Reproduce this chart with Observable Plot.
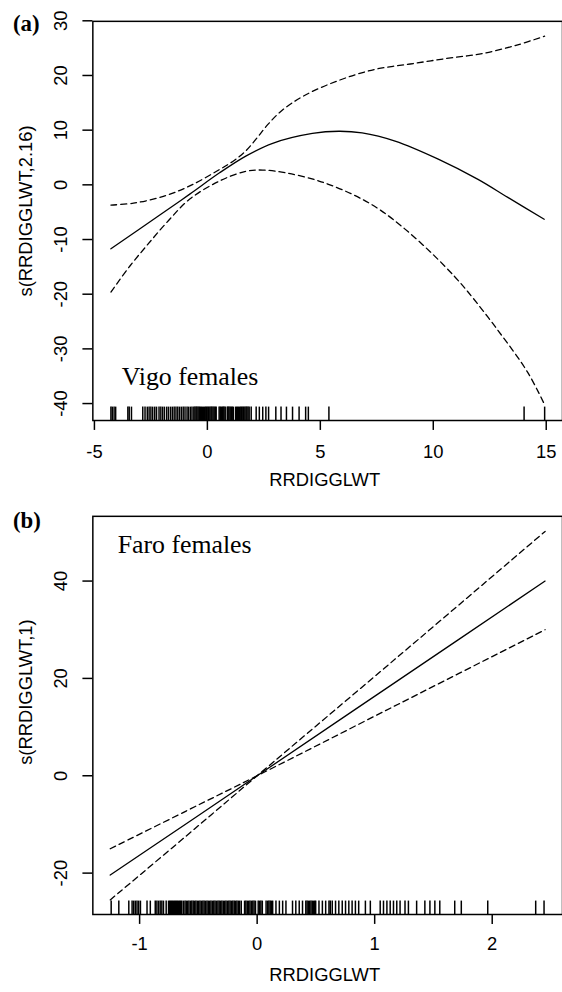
<!DOCTYPE html>
<html><head><meta charset="utf-8">
<script src="https://cdn.jsdelivr.net/npm/d3@7"></script>
<script src="https://cdn.jsdelivr.net/npm/@observablehq/plot@0.6"></script>
<style>
html,body{margin:0;padding:0;background:#fff;overflow:hidden;width:562px;height:992px}
#wrap{position:relative;width:562px;height:992px;overflow:hidden;background:#fff}
#wrap svg{display:block}
</style></head><body><div id="wrap"></div>
<script>
// ---------- Panel (a): Vigo females ----------
const aFitX = [-4.27,-2.17,-0.78,0.54,1.72,2.89,4.65,5.82,6.85,8.31,10.22,11.98,13.3,14.91];
const aFitY = [-11.7,-5.7,-1.7,2.2,5.3,7.6,9.4,9.8,9.5,8.0,4.7,1.0,-2.3,-6.3];
const aUpX  = [-4.27,-3.27,-1.95,-0.78,0.54,1.2,1.72,2.2,2.67,3.3,4.28,5.82,7.4,8.98,10.57,12.16,13.74,14.93];
const aUpY  = [-3.7,-3.35,-2.1,-0.2,2.8,4.5,6.3,8.6,11.0,13.6,16.3,19.1,21.1,22.1,23.1,24.0,25.6,27.2];
const aLoX  = [-4.27,-3.42,-2.68,-1.8,-0.78,0.54,1.72,2.45,3.47,4.94,6.4,7.58,8.75,9.93,10.95,11.54,12.86,14.18,14.95];
const aLoY  = [-19.6,-14.8,-11.1,-6.9,-2.6,0.7,2.5,2.7,2.2,0.7,-1.7,-4.4,-8.1,-12.5,-16.8,-19.6,-26.6,-34.3,-40.4];
const aRug = [-4.27,-4.21,-4.13,-4.06,-3.52,-3.46,-3.36,-2.86,-2.76,-2.66,-2.58,-2.5,-2.42,-2.33,-2.25,-2.14,-2.06,-1.98,-1.9,-1.8,-1.72,-1.63,-1.55,-1.47,-1.39,-1.31,-1.23,-1.15,-1.07,-0.99,-0.9,-0.83,-0.75,-0.68,-0.6,-0.55,-0.5,-0.46,-0.41,-0.36,-0.31,-0.27,-0.22,-0.17,-0.12,-0.07,-0.03,0.02,0.06,0.11,0.16,0.2,0.25,0.3,0.35,0.39,0.52,0.57,0.62,0.66,0.7,0.74,0.79,0.88,0.92,0.96,1.01,1.06,1.1,1.15,1.25,1.29,1.34,1.38,1.43,1.48,1.52,1.57,1.61,1.66,1.71,1.75,1.8,1.85,1.94,2.16,2.3,2.45,2.59,2.71,3.03,3.26,3.5,3.77,4.06,4.35,4.47,5.38,14.02,14.93];
const aXTicks = [-5,0,5,10,15];
const aYTicks = [-40,-30,-20,-10,0,10,20,30];
const aXDomain = [-5.07,15.72];
const aYDomain = [-43.1,29.9];
const aYLabel = "s(RRDIGGLWT,2.16)";
const aTag = "(a)";
const aNote = "Vigo females";

// ---------- Panel (b): Faro females ----------
const bX   = [-1.25,-0.6,0,1.2,2.45];
const bFit = [-20.4,-9.8,0,19.6,40.0];
const bUp  = [-25.5,-12.3,0,24.5,50.2];
const bLo  = [-15.0,-7.2,0,14.7,30.0];
const bRug = [-1.242,-1.177,-1.092,-1.064,-1.05,-1.036,-1.022,-1.008,-0.993,-0.937,-0.909,-0.867,-0.853,-0.839,-0.825,-0.811,-0.797,-0.774,
  -0.754,-0.745,-0.737,-0.728,-0.72,-0.711,-0.702,-0.694,-0.685,-0.677,-0.668,-0.659,-0.651,-0.642,-0.628,
  -0.614,-0.603,-0.591,-0.58,-0.567,-0.556,-0.544,-0.532,-0.521,-0.509,-0.497,-0.486,-0.474,-0.462,-0.451,-0.439,-0.427,-0.416,-0.404,-0.393,-0.381,-0.369,-0.358,-0.346,-0.334,-0.323,-0.311,-0.3,-0.288,-0.276,-0.265,-0.253,-0.241,-0.23,-0.218,-0.207,-0.195,-0.183,-0.172,-0.16,-0.149,-0.135,
  -0.107,-0.096,-0.084,-0.072,-0.061,-0.049,-0.037,-0.026,-0.014,0.009,0.021,0.032,0.044,0.076,0.09,0.1,0.111,0.122,0.132,0.16,0.189,0.217,0.245,0.301,0.329,0.358,0.386,
  0.414,0.425,0.436,0.447,0.458,0.469,0.48,0.49,0.498,0.526,0.555,0.583,0.611,0.622,0.639,0.667,0.695,0.724,0.752,0.78,0.808,0.836,0.864,0.921,0.963,1.047,1.075,1.104,1.132,1.16,1.188,1.216,1.258,1.287,1.357,1.427,1.47,1.512,1.554,1.681,1.737,1.962,2.37,2.441];
const bXTicks = [-1,0,1,2];
const bYTicks = [-20,0,20,40];
const bXDomain = [-1.398,2.598];
const bYDomain = [-28.5,53.3];
const bYLabel = "s(RRDIGGLWT,1)";
const bTag = "(b)";
const bNote = "Faro females";
const xLabel = "RRDIGGLWT";

const SANS = "'Liberation Sans', Arial, Helvetica, sans-serif";
const SERIF = "'Liberation Serif', 'Times New Roman', Times, serif";

function rows(xs, ys) { return xs.map((x, i) => ({x, y: ys[i]})); }

function panel(o) {
  const plotH = o.height - o.marginTop - o.marginBottom;
  return Plot.plot({
    width: 566, height: o.height,
    marginLeft: 93, marginRight: 0, marginTop: o.marginTop, marginBottom: o.marginBottom,
    x: {domain: o.xDomain},
    y: {domain: o.yDomain},
    style: {fontFamily: SANS, fontSize: "18.5px", color: "black", background: "white", overflow: "visible"},
    marks: [
      Plot.frame({stroke: "black", strokeWidth: 1.5}),
      Plot.axisX({ticks: o.xTicks, tickSize: 10, tickPadding: o.xPad, tickFormat: d => String(d), strokeWidth: 1.5, label: null}),
      Plot.axisY({ticks: o.yTicks, tickSize: 10, tickFormat: () => "", strokeWidth: 1.5, label: null}),
      Plot.text(o.yTicks, {y: d => d, frameAnchor: "left", text: d => String(d), rotate: -90,
        textAnchor: "middle", lineAnchor: "bottom", dx: -26}),
      Plot.ruleX(o.rug, {x: d => d, insetTop: plotH - 13.5, stroke: "black", strokeWidth: 1.5}),
      Plot.line(rows(o.upX, o.upY), {x: "x", y: "y", curve: "catmull-rom", stroke: "black", strokeWidth: 1.3, strokeDasharray: "6,4"}),
      Plot.line(rows(o.loX, o.loY), {x: "x", y: "y", curve: "catmull-rom", stroke: "black", strokeWidth: 1.3, strokeDasharray: "6,4"}),
      Plot.line(rows(o.fitX, o.fitY), {x: "x", y: "y", curve: "catmull-rom", stroke: "black", strokeWidth: 1.3}),
      Plot.text([o.yLabel], {frameAnchor: "left", text: d => d, rotate: -90, textAnchor: "middle", lineAnchor: "bottom", dx: -61, dy: o.yLabDy}),
      Plot.text([xLabel], {frameAnchor: "bottom", text: d => d, textAnchor: "middle", lineAnchor: "bottom", dx: -3, dy: o.xLabDy}),
      Plot.text([o.tag], {frameAnchor: "top-left", text: d => d, textAnchor: "start", lineAnchor: "bottom",
        dx: -80.5, dy: o.tagDy, fontFamily: SERIF, fontWeight: "bold", fontSize: 23}),
      Plot.text([o.note], {frameAnchor: o.noteAnchor, text: d => d, textAnchor: "start", lineAnchor: "bottom",
        dx: o.noteDx, dy: o.noteDy, fontFamily: SERIF, fontSize: 26})
    ]
  });
}

const wrap = document.getElementById("wrap");
const pa = panel({
  height: 495, marginTop: 21, marginBottom: 72,
  xDomain: aXDomain, yDomain: aYDomain, xTicks: aXTicks, yTicks: aYTicks, xPad: 15,
  rug: aRug, fitX: aFitX, fitY: aFitY, upX: aUpX, upY: aUpY, loX: aLoX, loY: aLoY,
  yLabel: aYLabel, yLabDy: -10, xLabDy: 66, tag: aTag, tagDy: 10,
  note: aNote, noteAnchor: "bottom-left", noteDx: 29, noteDy: -36
});
const pb = panel({
  height: 497, marginTop: 24, marginBottom: 72,
  xDomain: bXDomain, yDomain: bYDomain, xTicks: bXTicks, yTicks: bYTicks, xPad: 13,
  rug: bRug, fitX: bX, fitY: bFit, upX: bX, upY: bUp, loX: bX, loY: bLo,
  yLabel: bYLabel, yLabDy: -23.5, xLabDy: 67, tag: bTag, tagDy: 12,
  note: bNote, noteAnchor: "top-left", noteDx: 25, noteDy: 37
});
wrap.appendChild(pa);
wrap.appendChild(pb);
</script></body></html>
